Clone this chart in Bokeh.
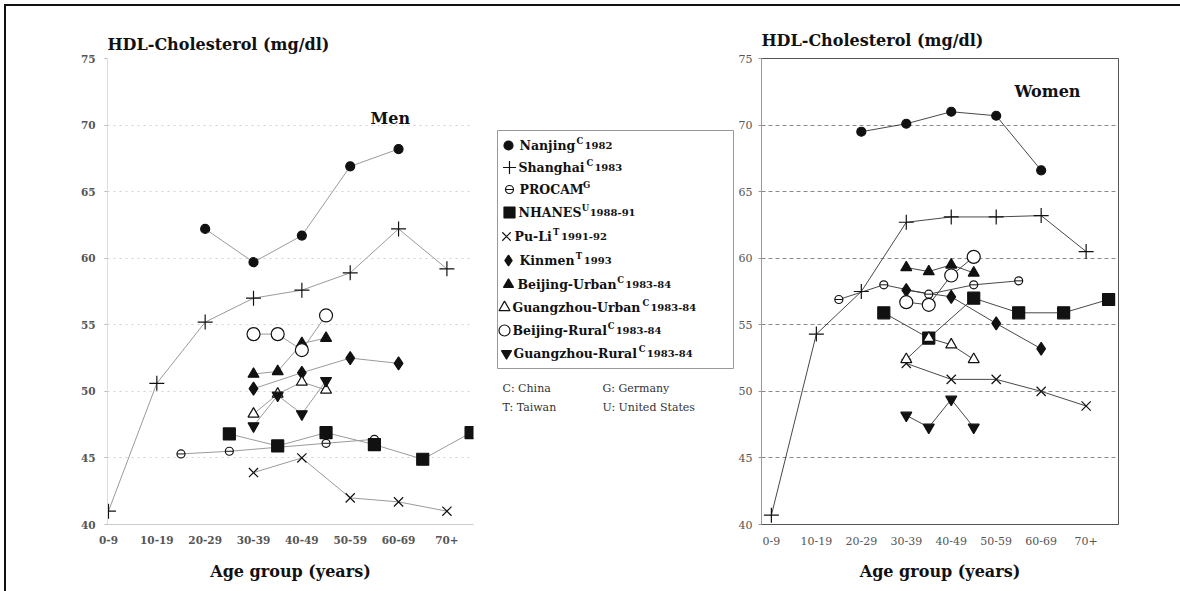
from bokeh.plotting import figure
from bokeh.layouts import row
from bokeh.models import Range1d, FixedTicker, Label
from bokeh.embed import file_html
from bokeh.resources import INLINE
from bokeh.core.properties import value

# ---------------- data ----------------
age_groups = ["0-9", "10-19", "20-29", "30-39", "40-49", "50-59", "60-69", "70+"]
y_ticks = [40, 45, 50, 55, 60, 65, 70, 75]

# x = age-group index (0 = "0-9"); .5 = midway between groups
# ---- Men ----
men_nanjing_x = [2, 3, 4, 5, 6]
men_nanjing_y = [62.2, 59.7, 61.7, 66.9, 68.2]
men_shanghai_x = [0, 1, 2, 3, 4, 5, 6, 7]
men_shanghai_y = [41.0, 50.6, 55.2, 57.0, 57.6, 58.9, 62.2, 59.2]
men_procam_x = [1.5, 2.5, 3.5, 4.5, 5.5]
men_procam_y = [45.3, 45.5, 45.8, 46.1, 46.4]
men_nhanes_x = [2.5, 3.5, 4.5, 5.5, 6.5, 7.5]
men_nhanes_y = [46.8, 45.9, 46.9, 46.0, 44.9, 46.9]
men_puli_x = [3, 4, 5, 6, 7]
men_puli_y = [43.9, 45.0, 42.0, 41.7, 41.0]
men_kinmen_x = [3, 4, 5, 6]
men_kinmen_y = [50.2, 51.4, 52.5, 52.1]
men_bj_urban_x = [3, 3.5, 4, 4.5]
men_bj_urban_y = [51.3, 51.5, 53.6, 54.0]
men_gz_urban_x = [3, 3.5, 4, 4.5]
men_gz_urban_y = [48.3, 49.8, 50.7, 50.1]
men_bj_rural_x = [3, 3.5, 4, 4.5]
men_bj_rural_y = [54.3, 54.3, 53.1, 55.7]
men_gz_rural_x = [3, 3.5, 4, 4.5]
men_gz_rural_y = [47.4, 49.7, 48.3, 50.8]

# ---- Women ----
wom_nanjing_x = [2, 3, 4, 5, 6]
wom_nanjing_y = [69.5, 70.1, 71.0, 70.7, 66.6]
wom_shanghai_x = [0, 1, 2, 3, 4, 5, 6, 7]
wom_shanghai_y = [40.7, 54.3, 57.5, 62.7, 63.1, 63.1, 63.2, 60.5]
wom_procam_x = [1.5, 2.5, 3.5, 4.5, 5.5]
wom_procam_y = [56.9, 58.0, 57.3, 58.0, 58.3]
wom_nhanes_x = [2.5, 3.5, 4.5, 5.5, 6.5, 7.5]
wom_nhanes_y = [55.9, 54.0, 57.0, 55.9, 55.9, 56.9]
wom_puli_x = [3, 4, 5, 6, 7]
wom_puli_y = [52.1, 50.9, 50.9, 50.0, 48.9]
wom_kinmen_x = [3, 4, 5, 6]
wom_kinmen_y = [57.6, 57.1, 55.1, 53.2]
wom_bj_urban_x = [3, 3.5, 4, 4.5]
wom_bj_urban_y = [59.3, 59.0, 59.5, 58.9]
wom_gz_urban_x = [3, 3.5, 4, 4.5]
wom_gz_urban_y = [52.4, 54.0, 53.5, 52.4]
wom_bj_rural_x = [3, 3.5, 4, 4.5]
wom_bj_rural_y = [56.7, 56.5, 58.7, 60.1]
wom_gz_rural_x = [3, 3.5, 4, 4.5]
wom_gz_rural_y = [48.2, 47.3, 49.4, 47.3]

series_names = ["Nanjing", "Shanghai", "PROCAM", "NHANES", "Pu-Li", "Kinmen",
                "Beijing-Urban", "Guangzhou-Urban", "Beijing-Rural", "Guangzhou-Rural"]
series_country = ["C", "C", "G", "U", "T", "T", "C", "C", "C", "C"]
series_years = ["1982", "1983", "", "1988-91", "1991-92", "1993",
                "1983-84", "1983-84", "1983-84", "1983-84"]
country_notes = ["C: China", "G: Germany", "T: Taiwan", "U: United States"]

men_series = [
    (men_nanjing_x, men_nanjing_y), (men_shanghai_x, men_shanghai_y),
    (men_procam_x, men_procam_y), (men_nhanes_x, men_nhanes_y),
    (men_puli_x, men_puli_y), (men_kinmen_x, men_kinmen_y),
    (men_bj_urban_x, men_bj_urban_y), (men_gz_urban_x, men_gz_urban_y),
    (men_bj_rural_x, men_bj_rural_y), (men_gz_rural_x, men_gz_rural_y),
]
wom_series = [
    (wom_nanjing_x, wom_nanjing_y), (wom_shanghai_x, wom_shanghai_y),
    (wom_procam_x, wom_procam_y), (wom_nhanes_x, wom_nhanes_y),
    (wom_puli_x, wom_puli_y), (wom_kinmen_x, wom_kinmen_y),
    (wom_bj_urban_x, wom_bj_urban_y), (wom_gz_urban_x, wom_gz_urban_y),
    (wom_bj_rural_x, wom_bj_rural_y), (wom_gz_rural_x, wom_gz_rural_y),
]

# ---------------- styles ----------------
SERIF = "DejaVu Serif"
INK = "#111111"
# marker, size, filled
marker_styles = [
    ("circle", 9, True),
    ("cross", 15, False),
    ("circle", 8, False),       # PROCAM (circle with bar)
    ("square", 12, True),
    ("x", 13, False),
    ("diamond", 13, True),
    ("triangle", 11, True),
    ("triangle", 11, False),
    ("circle", 13, False),
    ("inverted_triangle", 11, True),
]


def draw_series(p, series, line_color, line_width):
    for (xs, ys) in series:
        p.line(xs, ys, line_color=line_color, line_width=line_width)
    for i, (xs, ys) in enumerate(series):
        mk, sz, filled = marker_styles[i]
        p.scatter(xs, ys, marker=mk, size=sz,
                  fill_color=INK if filled else "white",
                  line_color=INK, line_width=1.2)
        if i == 2:
            p.scatter(xs, ys, marker="dash", size=sz, line_color=INK, line_width=1)


def style_common(p, tick_font_size, tick_style, tick_color):
    p.xaxis.ticker = FixedTicker(ticks=list(range(len(age_groups))))
    p.xaxis.major_label_overrides = {i: lab for i, lab in enumerate(age_groups)}
    p.yaxis.ticker = FixedTicker(ticks=y_ticks)
    for ax in (p.xaxis, p.yaxis):
        ax.major_label_text_font = SERIF
        ax.major_label_text_font_size = tick_font_size
        ax.major_label_text_font_style = tick_style
        ax.major_label_text_color = tick_color
        ax.minor_tick_line_color = None
    p.xaxis.axis_label = "Age group (years)"
    p.xaxis.axis_label_text_font = SERIF
    p.xaxis.axis_label_text_font_style = "bold"
    p.xaxis.axis_label_text_font_size = "16px"
    p.xaxis.axis_label_text_color = INK
    p.title.text = "HDL-Cholesterol (mg/dl)"
    p.title.text_font = SERIF
    p.title.text_font_style = "bold"
    p.title.text_font_size = "16px"
    p.title.text_color = INK
    p.title.align = "left"
    p.xgrid.grid_line_color = None
    p.background_fill_color = "white"
    p.border_fill_color = "white"


# ---------------- Men ----------------
men = figure(width=484, height=585, x_range=Range1d(-0.02, 7.55), y_range=Range1d(40, 75),
             output_backend="svg", toolbar_location=None,
             min_border_left=101, min_border_right=17, min_border_top=52, min_border_bottom=67)
style_common(men, "10.5px", "bold", "#555555")
men.outline_line_color = None
men.ygrid.grid_line_color = "#d2d2d2"
men.ygrid.grid_line_dash = "2 4"
men.xaxis.axis_line_color = "#cccccc"
men.xaxis.major_tick_line_color = None
men.xaxis.major_label_standoff = 5
men.xaxis.axis_label_standoff = 15
men.yaxis.axis_line_color = "#dddddd"
men.yaxis.major_tick_line_color = "#bbbbbb"
men.yaxis.major_tick_out = 3
men.yaxis.major_tick_in = 0
men.yaxis.major_label_standoff = 9
draw_series(men, men_series, "#9a9a9a", 1)
men.add_layout(Label(x=5.83, y=70.5, text="Men", text_font=SERIF, text_font_style="bold",
                     text_font_size="16px", text_align="center", text_baseline="middle",
                     text_color=INK))

# ---------------- Women ----------------
wom = figure(width=445, height=585, x_range=Range1d(-0.22, 7.72), y_range=Range1d(40, 75),
             output_backend="svg", toolbar_location=None,
             min_border_left=25, min_border_right=62, min_border_top=52, min_border_bottom=67)
style_common(wom, "11px", "normal", "#555555")
wom.title.standoff = 18
wom.outline_line_color = "#555555"
wom.outline_line_width = 1
wom.ygrid.grid_line_color = "#8a8a8a"
wom.ygrid.grid_line_dash = "4 3"
wom.xaxis.axis_line_color = "#555555"
wom.xaxis.major_tick_line_color = None
wom.xaxis.major_label_standoff = 6
wom.xaxis.axis_label_standoff = 14
wom.yaxis.axis_line_color = "#999999"
wom.yaxis.major_tick_line_color = "#999999"
wom.yaxis.major_tick_out = 3
wom.yaxis.major_tick_in = 0
wom.yaxis.major_label_standoff = 6
draw_series(wom, wom_series, "#333333", 0.9)
wom.add_layout(Label(x=6.14, y=72.5, text="Women", text_font=SERIF, text_font_style="bold",
                     text_font_size="16px", text_align="center", text_baseline="middle",
                     text_color=INK))

# ---------------- Legend panel (pixel-like coordinates, y down) ----------------
# row layouts align plot frames: this panel's frame spans screen y 58..524
leg = figure(width=245, height=585, x_range=Range1d(490, 735), y_range=Range1d(524, 58),
             output_backend="svg", toolbar_location=None,
             min_border_left=0, min_border_right=0, min_border_top=52, min_border_bottom=67)
leg.axis.visible = False
leg.grid.visible = False
leg.outline_line_color = None
leg.border_fill_color = "white"

leg.quad(left=[497], right=[733], top=[130], bottom=[368], fill_color=None,
         line_color="#999999", line_width=1)

row_y = [145, 167, 189, 212, 236, 260, 284, 307, 330, 353]
marker_x = [508, 509, 509, 509, 506, 508, 508, 504, 504, 506]
name_x = [519, 518, 519, 518, 514, 519, 517, 512, 512, 513]
legend_marker_sizes = [9, 13, 8, 11, 12, 11, 10, 11, 11, 10]

W = {'A': .774, 'B': .762, 'C': .734, 'D': .830, 'E': .725, 'G': .821, 'H': .946, 'I': .471,
     'K': .806, 'L': .703, 'M': 1.076, 'N': .884, 'O': .850, 'P': .733, 'R': .802, 'S': .720,
     'U': .837, 'a': .646, 'b': .712, 'c': .593, 'e': .647, 'g': .712, 'h': .737, 'i': .377,
     'j': .356, 'k': .712, 'l': .377, 'm': 1.081, 'n': .737, 'o': .669, 'r': .549, 's': .593,
     't': .475, 'u': .737, 'z': .583, '-': .411, ' ': .348}
NAME_PX = 12.5
sup_x, year_x = [], []
for nx, nm in zip(name_x, series_names):
    w = sum(W.get(ch, .65) for ch in nm) * NAME_PX
    sup_x.append(nx + w + 1.5)
    year_x.append(nx + w + 9.5)

for i in range(len(series_names)):
    mk, _, filled = marker_styles[i]
    sz = legend_marker_sizes[i]
    leg.scatter([marker_x[i]], [row_y[i]], marker=mk, size=sz,
                fill_color=INK if filled else "white", line_color=INK, line_width=1.2)
    if i == 2:
        leg.scatter([marker_x[i]], [row_y[i]], marker="dash", size=sz, line_color=INK)

leg.text(x=name_x, y=row_y, text=series_names, text_font=value(SERIF), text_font_style="bold",
         text_font_size="12.5px", text_baseline="middle", text_align="left", text_color=INK)
leg.text(x=sup_x, y=[v - 5 for v in row_y], text=series_country, text_font=value(SERIF),
         text_font_style="bold", text_font_size="8.5px", text_baseline="middle",
         text_align="left", text_color=INK)
leg.text(x=year_x, y=row_y, text=series_years, text_font=value(SERIF), text_font_style="bold",
         text_font_size="10px", text_baseline="middle", text_align="left", text_color=INK)
leg.text(x=[502, 602, 502, 602], y=[388, 388, 407, 407], text=country_notes,
         text_font=value(SERIF), text_font_size="11px", text_baseline="middle",
         text_align="left", text_color="#333333")

layout = row(men, leg, wom, margin=(4, 0, 0, 4),
             styles={"border-top": "2px solid #111111", "border-left": "2px solid #111111"})

open("out.html", "w").write(file_html(layout, INLINE))
